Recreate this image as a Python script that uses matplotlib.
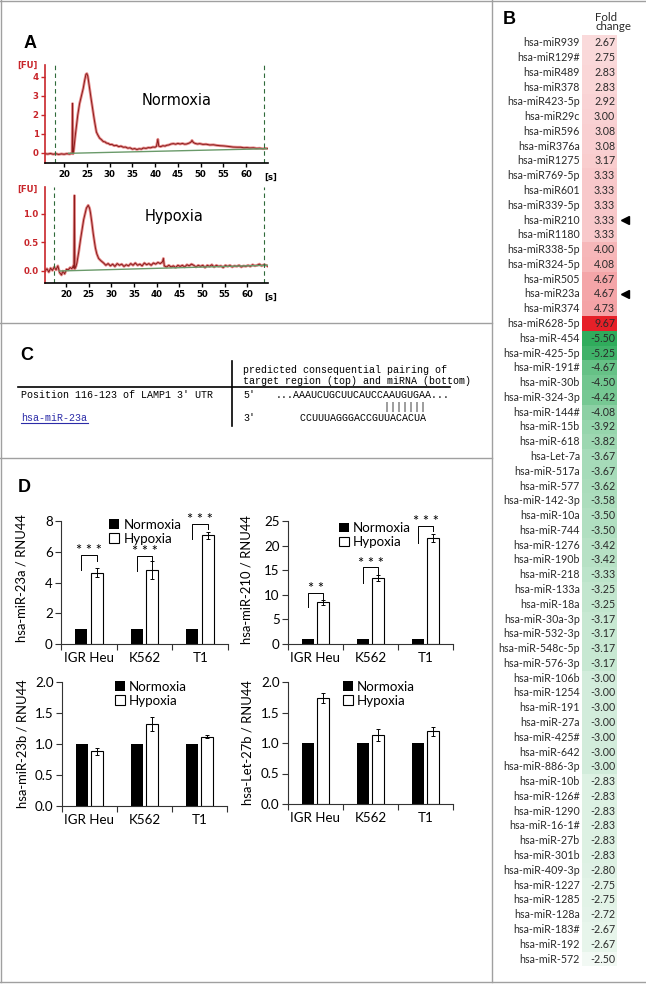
import matplotlib
matplotlib.use("Agg")
import matplotlib.pyplot as plt
import numpy as np

W, H = 646, 984

# ---------------- panel A: electropherograms
norm_t = [15.8, 16.4, 17.0, 17.6, 18.2, 18.8, 19.4, 20.0, 20.6, 21.2, 21.6, 21.75, 21.85, 21.95,
          22.1, 22.4, 22.7, 23.0, 23.4, 23.8, 24.2, 24.5, 24.8, 25.0, 25.2, 25.6, 25.9, 26.2, 26.5,
          26.7, 27.1, 27.4, 27.8, 28.2, 28.6, 29.0, 29.3, 29.7, 30.1, 30.5, 31.0, 31.5, 32.0, 32.5,
          33.0, 33.5, 34.0, 34.5, 35.0, 35.5, 36.0, 36.5, 37.0, 37.4, 38.0, 38.5, 39.0, 39.5, 40.0,
          40.3, 40.6, 40.8, 41.2, 41.7, 42.2, 42.5, 43.0, 43.5, 44.0, 44.5, 45.0, 45.5, 46.0, 46.5,
          46.9, 47.5, 47.9, 48.1, 48.4, 48.8, 49.3, 49.8, 50.5, 51.2, 52.0, 52.8, 53.5, 54.3, 55.0,
          55.8, 56.5, 57.1, 58.0, 58.8, 59.5, 60.2, 60.8, 61.6, 62.3, 63.0, 63.7, 64.3, 64.8]
norm_fu = [-0.04, -0.06, -0.03, -0.07, -0.04, -0.08, -0.05, -0.07, -0.04, -0.06, -0.03, -0.02, 2.6, -0.05,
           0.1, 0.8, 1.4, 2.0, 2.6, 3.0, 3.4, 3.8, 4.14, 4.18, 4.05, 3.4, 2.9, 2.43, 1.95,
           1.65, 1.1, 0.95, 0.78, 0.7, 0.6, 0.58, 0.52, 0.5, 0.44, 0.45, 0.38, 0.4, 0.33, 0.36,
           0.3, 0.31, 0.25, 0.27, 0.2, 0.23, 0.18, 0.22, 0.2, 0.26, 0.24, 0.28, 0.27, 0.31, 0.3,
           0.35, 0.72, 0.36, 0.33, 0.38, 0.36, 0.4, 0.42, 0.47, 0.49, 0.46, 0.5, 0.47, 0.5, 0.46,
           0.47, 0.52, 0.58, 0.66, 0.55, 0.5, 0.47, 0.49, 0.45, 0.46, 0.42, 0.43, 0.4, 0.38, 0.37,
           0.35, 0.33, 0.31, 0.3, 0.3, 0.27, 0.28, 0.26, 0.27, 0.24, 0.25, 0.22, 0.24, 0.23]
norm_base_t = [21.0, 64.5]
norm_base_fu = [-0.02, 0.22]

hyp_t = [15.4, 15.8, 16.2, 16.6, 17.0, 17.4, 17.8, 18.2, 18.6, 19.0, 19.3, 19.7, 20.1, 20.5, 20.9,
         21.3, 21.6, 21.75, 21.85, 21.95, 22.2, 22.4, 22.8, 23.2, 23.6, 23.9, 24.2, 24.5, 24.9,
         25.2, 25.4, 25.7, 26.0, 26.3, 26.5, 26.8, 27.2, 27.7, 28.3, 28.8, 29.3, 29.8, 30.3, 30.8,
         31.3, 31.8, 32.3, 32.8, 33.3, 33.8, 34.3, 34.8, 35.3, 35.8, 36.3, 36.8, 37.3, 37.8, 38.3,
         38.8, 39.3, 39.8, 40.3, 40.8, 41.3, 41.5, 41.7, 42.2, 42.7, 43.2, 43.7, 44.2, 44.7, 45.2,
         45.7, 46.2, 46.7, 47.2, 47.7, 48.2, 48.7, 49.2, 49.7, 50.2, 50.7, 51.2, 51.7, 52.2, 52.7,
         53.2, 53.7, 54.2, 54.7, 55.2, 55.7, 56.2, 56.7, 57.2, 57.7, 58.2, 58.7, 59.2, 59.7, 60.2,
         60.7, 61.2, 61.7, 62.2, 62.7, 63.2, 63.7, 64.2, 64.6]
hyp_fu = [0.0, 0.04, -0.02, 0.05, 0.01, 0.07, 0.02, 0.09, -0.03, -0.07, 0.0, -0.05, 0.03, 0.02, 0.06,
          0.04, 0.09, 0.05, 1.32, 0.04, 0.08, 0.14, 0.33, 0.55, 0.75, 0.9, 1.0, 1.1, 1.15,
          1.1, 1.02, 0.85, 0.66, 0.5, 0.4, 0.3, 0.22, 0.18, 0.14, 0.1, 0.13, 0.09, 0.12, 0.08,
          0.13, 0.1, 0.12, 0.08, 0.11, 0.09, 0.13, 0.1, 0.14, 0.1, 0.12, 0.09, 0.14, 0.11, 0.13,
          0.1, 0.14, 0.12, 0.15, 0.13, 0.16, 0.22, 0.09, 0.07, 0.1, 0.07, 0.09, 0.06, 0.1, 0.08,
          0.1, 0.07, 0.11, 0.09, 0.12, 0.1, 0.07, 0.1, 0.08, 0.1, 0.06, 0.1, 0.08, 0.11, 0.07,
          0.1, 0.08, 0.09, 0.06, 0.1, 0.08, 0.1, 0.07, 0.09, 0.08, 0.1, 0.07, 0.09, 0.08, 0.1,
          0.08, 0.11, 0.09, 0.1, 0.12, 0.09, 0.11, 0.1, 0.08]
hyp_base_t = [18.5, 64.5]
hyp_base_fu = [0.0, 0.1]

# ---------------- panel B: fold change table
mirs = ["hsa-miR939", "hsa-miR129#", "hsa-miR489", "hsa-miR378", "hsa-miR423-5p", "hsa-miR29c",
        "hsa-miR596", "hsa-miR376a", "hsa-miR1275", "hsa-miR769-5p", "hsa-miR601", "hsa-miR339-5p",
        "hsa-miR210", "hsa-miR1180", "hsa-miR338-5p", "hsa-miR324-5p", "hsa-miR505", "hsa-miR23a",
        "hsa-miR374", "hsa-miR628-5p", "hsa-miR-454", "hsa-miR-425-5p", "hsa-miR-191#", "hsa-miR-30b",
        "hsa-miR-324-3p", "hsa-miR-144#", "hsa-miR-15b", "hsa-miR-618", "hsa-Let-7a", "hsa-miR-517a",
        "hsa-miR-577", "hsa-miR-142-3p", "hsa-miR-10a", "hsa-miR-744", "hsa-miR-1276", "hsa-miR-190b",
        "hsa-miR-218", "hsa-miR-133a", "hsa-miR-18a", "hsa-miR-30a-3p", "hsa-miR-532-3p",
        "hsa-miR-548c-5p", "hsa-miR-576-3p", "hsa-miR-106b", "hsa-miR-1254", "hsa-miR-191",
        "hsa-miR-27a", "hsa-miR-425#", "hsa-miR-642", "hsa-miR-886-3p", "hsa-miR-10b", "hsa-miR-126#",
        "hsa-miR-1290", "hsa-miR-16-1#", "hsa-miR-27b", "hsa-miR-301b", "hsa-miR-409-3p",
        "hsa-miR-1227", "hsa-miR-1285", "hsa-miR-128a", "hsa-miR-183#", "hsa-miR-192", "hsa-miR-572"]
fold = [2.67, 2.75, 2.83, 2.83, 2.92, 3.00, 3.08, 3.08, 3.17, 3.33, 3.33, 3.33, 3.33, 3.33, 4.00,
        4.08, 4.67, 4.67, 4.73, 9.67, -5.50, -5.25, -4.67, -4.50, -4.42, -4.08, -3.92, -3.82, -3.67,
        -3.67, -3.62, -3.58, -3.50, -3.50, -3.42, -3.42, -3.33, -3.25, -3.25, -3.17, -3.17, -3.17,
        -3.17, -3.00, -3.00, -3.00, -3.00, -3.00, -3.00, -3.00, -2.83, -2.83, -2.83, -2.83, -2.83,
        -2.83, -2.80, -2.75, -2.75, -2.72, -2.67, -2.67, -2.50]
marked = ["hsa-miR210", "hsa-miR23a"]

# ---------------- panel D: qPCR
cells = ["IGR Heu", "K562", "T1"]
normoxia = [1.0, 1.0, 1.0]
mir23a_hyp = [4.65, 4.82, 7.08]
mir23a_err = [0.27, 0.6, 0.22]
mir210_hyp = [8.5, 13.5, 21.5]
mir210_err = [0.5, 0.6, 0.8]
mir23b_hyp = [0.88, 1.32, 1.12]
mir23b_err = [0.05, 0.11, 0.03]
let27b_hyp = [1.74, 1.13, 1.19]
let27b_err = [0.08, 0.1, 0.08]
# significance brackets: left leg bottom, top, right leg bottom, stars
mir23a_sig = ([4.8, 4.78, 6.85], [5.8, 5.75, 7.82], [5.4, 5.4, 7.5], ["***", "***", "***"])
mir210_sig = ([7.5, 12.5, 20.6], [10.4, 15.6, 24.05], [9.1, 14.0, 23.0], ["**", "***", "***"])

RED = "#c8262b"
DARKRED = "#8b1c1c"
SANS = ["Lato", "DejaVu Sans"]
plt.rcParams["font.family"] = SANS


def rect(x0, y0, x1, y1):
    return [x0 / W, 1 - y1 / H, (x1 - x0) / W, (y1 - y0) / H]


fig = plt.figure(figsize=(W / 100, H / 100), dpi=100)

ov = fig.add_axes([0, 0, 1, 1])
ov.set_xlim(0, W)
ov.set_ylim(H, 0)
ov.axis("off")

# frame + separators
grey = "#a0a0a0"
ov.plot([0, W], [1, 1], color=grey, lw=1)
ov.plot([1, 1], [0, 982], color=grey, lw=1)
ov.plot([0, W], [982, 982], color=grey, lw=1)
ov.plot([492, 492], [0, 982], color=grey, lw=1)
ov.plot([0, 492], [323, 323], color=grey, lw=1)
ov.plot([0, 492], [458, 458], color=grey, lw=1)

for letter, x, y in [("A", 30, 43), ("B", 509, 20), ("C", 27, 355), ("D", 24, 488)]:
    ov.text(x, y, letter, fontsize=13, fontweight="bold", family="Liberation Sans",
            ha="center", va="center")


# ---------------- panel A
def trace_ax(box, t, fu, bt, bfu, xlim, ylim, yt, ylab, dashes, title, title_xy):
    ax = fig.add_axes(rect(*box))
    ax.set_xlim(*xlim)
    ax.set_ylim(*ylim)
    ax.plot(t, fu, color="#e07070", lw=2.0, alpha=0.8)
    ax.plot(t, fu, color=DARKRED, lw=0.7)
    ax.plot(bt, bfu, color="#6a9a6a", lw=1.0)
    for d in dashes:
        ax.axvline(d, color="#2f6b3a", lw=0.8, ls=(0, (4, 3)))
    for s in ["top", "right"]:
        ax.spines[s].set_visible(False)
    ax.spines["left"].set_color(RED)
    ax.spines["left"].set_linewidth(1.2)
    ax.spines["bottom"].set_linewidth(1.2)
    ax.set_xticks(range(20, 61, 5), [str(v) for v in range(20, 61, 5)],
                  fontsize=6.2, fontweight="bold", family="DejaVu Sans")
    ax.set_yticks(yt, ylab, fontsize=6.2, fontweight="bold", family="DejaVu Sans", color=RED)
    ax.tick_params(axis="y", colors=RED, length=3, width=1, pad=1.5)
    ax.tick_params(axis="x", length=3, width=1, pad=2)
    ax.text(title_xy[0], title_xy[1], title, transform=ax.transAxes, fontsize=10.5,
            family="DejaVu Sans", ha="center", va="center")
    ax.patch.set_alpha(0)
    return ax


trace_ax((45, 65, 268, 163), norm_t, norm_fu, norm_base_t, norm_base_fu, (15.8, 64.8),
         (-0.53, 4.63), [0, 1, 2, 3, 4], ["0", "1", "2", "3", "4"], [17.9, 63.9],
         "Normoxia", (0.59, 0.64))
trace_ax((45, 187, 268, 283), hyp_t, hyp_fu, hyp_base_t, hyp_base_fu, (15.36, 64.6),
         (-0.21, 1.47), [0.0, 0.5, 1.0], ["0.0", "0.5", "1.0"], [17.4, 63.8],
         "Hypoxia", (0.58, 0.69))
for y in (65, 189):
    ov.text(27, y, "[FU]", color=RED, fontsize=6.2, fontweight="bold", family="DejaVu Sans",
            ha="center", va="center")
for y in (177, 297):
    ov.text(271, y, "[s]", fontsize=6.2, fontweight="bold", family="DejaVu Sans",
            ha="center", va="center")

# ---------------- panel C
mono = dict(family="Liberation Mono", fontsize=7.2, va="center")
ov.plot([18, 450], [387, 387], color="black", lw=1.2)
ov.plot([232, 232], [361, 426], color="black", lw=1.2)
ov.text(243, 370, "predicted consequential pairing of", ha="left", **mono)
ov.text(243, 381, "target region (top) and miRNA (bottom)", ha="left", **mono)
ov.text(21, 395, "Position 116-123 of LAMP1 3' UTR", ha="left", **mono)
ov.text(243, 395, "5'", ha="left", **mono)
ov.text(276, 395, "...AAAUCUGCUUCAUCCAAUGUGAA...", ha="left", **mono)
ov.text(276, 407, " " * 18 + "|||||||", ha="left", **mono)
ov.text(243, 418, "3'", ha="left", **mono)
ov.text(276, 418, " " * 4 + "CCUUUAGGGACCGUUACACUA", ha="left", **mono)
ov.text(21, 418, "hsa-miR-23a", ha="left", color="#2b2ba8", **mono)
ov.plot([21, 88], [423, 423], color="#2b2ba8", lw=0.8)

# ---------------- panel B
axB = fig.add_axes(rect(582, 35.3, 617, 966.4))
pos_lo, pos_hi = np.array([250, 218, 219]), np.array([230, 32, 40])
neg_lo, neg_hi = np.array([242, 249, 244]), np.array([48, 172, 92])
colors = []
for v in fold:
    if v > 0:
        f = (v - 2.67) / (9.67 - 2.67)
        c = pos_lo + f * (pos_hi - pos_lo)
    else:
        f = (-2.50 - v) / 3.0
        c = neg_lo + f * (neg_hi - neg_lo)
    colors.append(c / 255)
rows = np.arange(len(mirs))
axB.barh(rows, 1, height=1.0, left=0, color=colors, linewidth=0)
axB.set_xlim(0, 1)
axB.set_ylim(len(mirs) - 0.5, -0.5)
axB.axis("off")
for i, (name, v) in enumerate(zip(mirs, fold)):
    axB.text(-0.06, i, name, ha="right", va="center", fontsize=7.7, color="#2a2a2a")
    axB.text(0.95, i, f"{v:.2f}", ha="right", va="center", fontsize=7.7, color="#2a2a2a")
for name in marked:
    axB.plot([1.22], [mirs.index(name)], marker="<", ms=6, color="black", clip_on=False)
ov.text(595, 22, "Fold\nchange", ha="left", va="center", fontsize=8.3, linespacing=0.8,
        color="#2a2a2a")


# ---------------- panel D
def bar_ax(box, hyp, err, ymax, yt, ylab_txt, ylabel, label_xy, leg_xy, sig=None):
    ax = fig.add_axes(rect(*box))
    x = np.arange(len(cells)) + 0.5
    ax.bar(x - 0.14, normoxia, 0.22, color="black", label="Normoxia")
    ax.bar(x + 0.14, hyp, 0.22, color="white", edgecolor="black", linewidth=0.8,
           yerr=err, error_kw=dict(elinewidth=0.7, capsize=1.5, capthick=0.7),
           label="Hypoxia")
    ax.set_xlim(0, 3)
    ax.set_ylim(0, ymax)
    for s in ["top", "right"]:
        ax.spines[s].set_visible(False)
    for s in ["left", "bottom"]:
        ax.spines[s].set_linewidth(0.8)
        ax.spines[s].set_color("#333333")
    ax.set_xticks([0, 1, 2, 3], ["", "", "", ""])
    ax.set_xticks(x, cells, minor=True, fontsize=9.6)
    ax.tick_params(axis="x", which="major", length=4, width=0.8, color="#333333")
    ax.tick_params(axis="x", which="minor", length=0, pad=6)
    ax.set_yticks(yt, ylab_txt, fontsize=9.6)
    ax.tick_params(axis="y", length=4, width=0.8, color="#333333", pad=2)
    ax.set_ylabel(ylabel, fontsize=9.4)
    ax.yaxis.set_label_coords(*label_xy)
    ax.legend(loc="upper left", bbox_to_anchor=leg_xy, frameon=False, fontsize=9.6,
              handlelength=0.75, handleheight=0.75, handletextpad=0.3, labelspacing=0.15,
              borderaxespad=0, borderpad=0)
    if sig is not None:
        lo_l, top, lo_r, stars = sig
        for i in range(len(cells)):
            ax.plot([x[i] - 0.14, x[i] - 0.14, x[i] + 0.14, x[i] + 0.14],
                    [lo_l[i], top[i], top[i], lo_r[i]], color="black", lw=0.7, clip_on=False)
            ax.annotate(" ".join(stars[i]), (x[i], top[i]), xytext=(0, 2.5),
                        textcoords="offset points", ha="center", va="center",
                        fontsize=10.5, annotation_clip=False)
    ax.patch.set_alpha(0)
    return ax


bar_ax((61, 521, 228, 644), mir23a_hyp, mir23a_err, 8, [0, 2, 4, 6, 8],
       ["0", "2", "4", "6", "8"], "hsa-miR-23a / RNU44", (-0.198, 0.54), (0.29, 1.02), mir23a_sig)
bar_ax((288, 521, 453, 644), mir210_hyp, mir210_err, 25, [0, 5, 10, 15, 20, 25],
       ["0", "5", "10", "15", "20", "25"], "hsa-miR-210 / RNU44", (-0.218, 0.52), (0.31, 0.99),
       mir210_sig)
bar_ax((62, 682, 227, 806), mir23b_hyp, mir23b_err, 2, [0, 0.5, 1.0, 1.5, 2.0],
       ["0.0", "0.5", "1.0", "1.5", "2.0"], "hsa-miR-23b / RNU44", (-0.2, 0.5), (0.32, 1.01))
bar_ax((288, 682, 453, 804), let27b_hyp, let27b_err, 2, [0, 0.5, 1.0, 1.5, 2.0],
       ["0.0", "0.5", "1.0", "1.5", "2.0"], "hsa-Let-27b / RNU44", (-0.212, 0.5), (0.333, 1.01))

fig.savefig("out.png", dpi=100)
